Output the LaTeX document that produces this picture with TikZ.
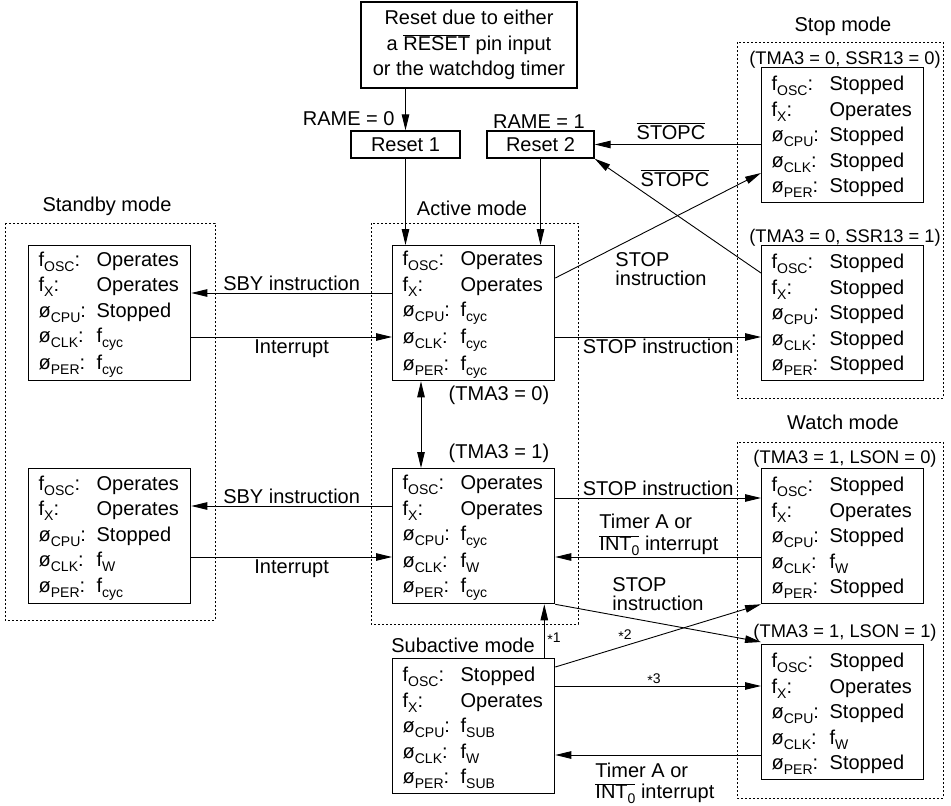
\documentclass[tikz,border=0pt]{standalone}
\usepackage{fontspec}
\setmainfont{Liberation Sans}
\usetikzlibrary{arrows.meta}
\newcommand{\subtx}[1]{\raisebox{-5pt}{\fontsize{14}{14}\selectfont #1}}
\newcommand{\fq}[1]{f\subtx{#1}}
\newcommand{\ovl}[1]{$\overline{\mbox{#1}}$}
\newcommand{\astx}[1]{{\fontsize{14}{14}\selectfont\raisebox{-2.5pt}{*}#1}}
\newcommand{\clkrow}[2]{\rule[-5pt]{0pt}{23pt}\makebox[58pt][l]{#1}#2}
\newcommand{\clocks}[5]{%
  \clkrow{f\subtx{OSC}:}{#1}\\
  \clkrow{f\subtx{X}:}{#2}\\
  \clkrow{ø\subtx{CPU}:}{#3}\\
  \clkrow{ø\subtx{CLK}:}{#4}\\
  \clkrow{ø\subtx{PER}:}{#5}}

\begin{document}
\begin{tikzpicture}[x=1pt, y=-1pt, >={Triangle[length=16pt,width=7.5pt]},
    line width=0.9pt, font=\fontsize{20}{25.5}\selectfont,
    modebox/.style={draw, line width=1.3pt, anchor=north west,
      text width=142pt, inner xsep=10pt, inner ysep=0pt,
      minimum height=135pt, align=left},
    rstbox/.style={draw, line width=1.3pt, inner sep=0pt},
    frame/.style={line width=0.8pt, dash pattern=on 2pt off 2pt},
    ttl/.style={anchor=base, inner sep=0pt},
    cond/.style={anchor=base, inner sep=0pt,
      font=\fontsize{18.3}{20}\selectfont},
    lbl/.style={inner sep=2pt},
    twoline/.style={anchor=north west, inner sep=0pt, align=left,
      font=\fontsize{20}{19}\selectfont}]
  \useasboundingbox (0,0) rectangle (951,806);

  % reset
  \node[rstbox, minimum width=216pt, minimum height=86pt, align=center]
    (rst) at (469,45)
    {Reset due to either\\a \ovl{RESET} pin input\\or the watchdog timer};
  \node[rstbox, minimum width=109pt, minimum height=27pt] (r1)
    at (405.5,144.5) {Reset 1};
  \node[rstbox, minimum width=107pt, minimum height=27pt] (r2)
    at (540.5,144.5) {Reset 2};
  \node[ttl, anchor=base east] (rame0) at (395,125) {RAME = 0};
  \node[ttl] (rame1) at (539,128) {RAME = 1};

  % mode frames
  \draw[frame] (5,223) rectangle (215,620);
  \draw[frame] (371,223) rectangle (578,624);
  \draw[frame] (737,42) rectangle (943,398);
  \draw[frame] (737,442) rectangle (943,798);
  \node[ttl] (tsb) at (107,211) {Standby mode};
  \node[ttl] (tact) at (472,215) {Active mode};
  \node[ttl] (tstp) at (843,31) {Stop mode};
  \node[ttl] (twch) at (843,429) {Watch mode};
  \node[ttl] (tsub) at (463,652) {Subactive mode};
  \node[cond] (c00) at (845,64) {(TMA3 = 0, SSR13 = 0)};
  \node[cond] (c01) at (845,242) {(TMA3 = 0, SSR13 = 1)};
  \node[cond] (c10) at (845,463) {(TMA3 = 1, LSON = 0)};
  \node[cond] (c11) at (845,637) {(TMA3 = 1, LSON = 1)};
  \node[ttl] (tma0) at (499,400) {(TMA3 = 0)};
  \node[ttl] (tma1) at (499,458) {(TMA3 = 1)};

  % clock states
  \node[modebox] (sb1) at (28,245)
    {\clocks{Operates}{Operates}{Stopped}{\fq{cyc}}{\fq{cyc}}};
  \node[modebox] (sb2) at (28,468)
    {\clocks{Operates}{Operates}{Stopped}{\fq{W}}{\fq{cyc}}};
  \node[modebox] (act1) at (392,245)
    {\clocks{Operates}{Operates}{\fq{cyc}}{\fq{cyc}}{\fq{cyc}}};
  \node[modebox] (act2) at (392,468)
    {\clocks{Operates}{Operates}{\fq{cyc}}{\fq{W}}{\fq{cyc}}};
  \node[modebox] (stp1) at (761,67)
    {\clocks{Stopped}{Operates}{Stopped}{Stopped}{Stopped}};
  \node[modebox] (stp2) at (761,245)
    {\clocks{Stopped}{Stopped}{Stopped}{Stopped}{Stopped}};
  \node[modebox] (wch1) at (761,468)
    {\clocks{Stopped}{Operates}{Stopped}{\fq{W}}{Stopped}};
  \node[modebox] (wch2) at (761,644)
    {\clocks{Stopped}{Operates}{Stopped}{\fq{W}}{Stopped}};
  \node[modebox] (sub) at (392,658)
    {\clocks{Stopped}{Operates}{\fq{SUB}}{\fq{W}}{\fq{SUB}}};

  % reset paths
  \draw[->] (rst.south -| r1) -- (r1);
  \draw[->] (r1) -- (r1 |- act1.north);
  \draw[->] (r2) -- (r2 |- act1.north);
  \draw[<->] ([xshift=29pt]act1.south west) -- ([xshift=29pt]act2.north west);

  % standby
  \draw[->] ([yshift=-48pt]act1.north west)
    -- node[lbl, above] (sby1) {SBY instruction} ([yshift=-48pt]sb1.north east);
  \draw[->] ([yshift=-92pt]sb1.north east)
    -- node[lbl, below] (int1) {Interrupt} ([yshift=-92pt]act1.north west);
  \draw[->] ([yshift=-38pt]act2.north west)
    -- node[lbl, above] (sby2) {SBY instruction} ([yshift=-38pt]sb2.north east);
  \draw[->] ([yshift=-89pt]sb2.north east)
    -- node[lbl, below] (int2) {Interrupt} ([yshift=-89pt]act2.north west);

  % stop
  \draw[->] ([yshift=-33pt]act1.north east) -- ([yshift=-106pt]stp1.north west);
  \node[twoline] (stopa) at (615,252) {STOP\\instruction};
  \draw[->] ([yshift=-92pt]act1.north east)
    -- node[lbl, below] (stopb) {STOP instruction} ([yshift=-92pt]stp2.north west);
  \draw[->] (stp1.west |- r2.east) -- (r2.east);
  \node[ttl] (stc1) at (671,139) {\ovl{STOPC}};
  \draw[->] ([yshift=-28pt]stp2.north west) -- (r2.south east);
  \node[ttl] (stc2) at (675,186) {\ovl{STOPC}};

  % watch
  \draw[->] ([yshift=-30pt]act2.north east)
    -- node[lbl, above] (stopc) {STOP instruction} ([yshift=-30pt]wch1.north west);
  \draw[->] ([yshift=-89pt]wch1.north west) -- ([yshift=-89pt]act2.north east);
  \node[twoline, font=\fontsize{20}{22}\selectfont] (tima) at (599,514)
    {Timer A or\\\ovl{INT\subtx{0}} interrupt};
  \draw[->] (act2.south east) -- ([yshift=2pt]wch2.north west);
  \node[twoline] (stopd) at (612,577) {STOP\\instruction};

  % subactive
  \coordinate (s3) at ([yshift=-28pt]sub.north east);
  \coordinate (s4) at ([yshift=-97pt]sub.north east);
  \draw[->] ([xshift=-11pt]sub.north east) -- ([xshift=-11pt]act2.south east);
  \node[ttl, anchor=base west] (n1) at (547,642) {\astx{1}};
  \draw[->] ([yshift=-9pt]sub.north east) -- (wch1.south west);
  \node[ttl, anchor=base west] (n2) at (618,639) {\astx{2}};
  \draw[->] (s3) -- (s3 -| wch2.west);
  \node[ttl, anchor=base west] (n3) at (647,683) {\astx{3}};
  \draw[->] (wch2.west |- s4) -- (s4);
  \node[twoline, font=\fontsize{20}{21}\selectfont] (timb) at (595,763)
    {Timer A or\\\ovl{INT\subtx{0}} interrupt};
\end{tikzpicture}
\end{document}
